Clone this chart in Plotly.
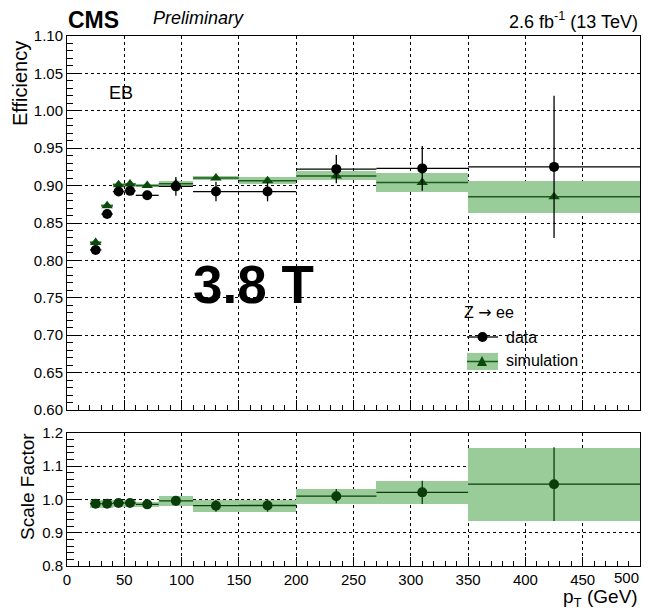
import plotly.graph_objects as go

W, H = 651, 610

# ---------------- data ----------------
bin_lo = [20, 30, 40, 50, 60, 80, 110, 150, 200, 270, 350]
bin_hi = [30, 40, 50, 60, 80, 110, 150, 200, 270, 350, 500]
pt_center = [25, 35, 45, 55, 70, 95, 130, 175, 235, 310, 425]

eff_data = [0.814, 0.862, 0.892, 0.893, 0.887, 0.899, 0.892, 0.892, 0.922, 0.923, 0.925]
eff_data_err = [0.005, 0.005, 0.005, 0.005, 0.006, 0.0125, 0.013, 0.013, 0.019, 0.030, 0.095]

eff_sim = [0.824, 0.873, 0.901, 0.902, 0.900, 0.9025, 0.910, 0.9065, 0.913, 0.904, 0.885]
eff_sim_err = [0.002, 0.002, 0.002, 0.002, 0.002, 0.003, 0.003, 0.0045, 0.006, 0.0128, 0.021]

sf = [0.987, 0.987, 0.989, 0.989, 0.985, 0.9955, 0.981, 0.9815, 1.0095, 1.021, 1.0455]
sf_err = [0.011, 0.011, 0.011, 0.011, 0.008, 0.0145, 0.018, 0.0185, 0.0215, 0.035, 0.1105]

x_ticks = [0, 50, 100, 150, 200, 250, 300, 350, 400, 450, 500]
x_ticktext = ["0", "50", "100", "150", "200", "250", "300", "350", "400", "450", ""]
last_x_label = "500"

# ---------------- helpers ----------------
half_w = [(h - l) / 2 for l, h in zip(bin_lo, bin_hi)]
widths = [h - l for l, h in zip(bin_lo, bin_hi)]


def px(x):
    return x / W


def py(y):
    return 1 - y / H


FONT = "Liberation Sans, Arial, Helvetica, sans-serif"
BAND = "#99cc99"
SIMLINE = "#1e5a1e"
SIMMARK = "#0a4a0a"
SFMARK = "#0b3d0b"

fig = go.Figure()

# ---- main panel: simulation band ----
fig.add_trace(go.Bar(
    x=pt_center,
    y=[2 * e for e in eff_sim_err],
    base=[v - e for v, e in zip(eff_sim, eff_sim_err)],
    width=widths,
    marker=dict(color=BAND, line=dict(width=0)),
    xaxis="x2", yaxis="y2", showlegend=False, hoverinfo="skip",
))
# simulation central values
fig.add_trace(go.Scatter(
    x=pt_center, y=eff_sim, mode="markers",
    marker=dict(symbol="triangle-up", size=10, color=SIMMARK),
    error_x=dict(type="data", array=half_w, color=SIMLINE, thickness=1.5, width=0),
    xaxis="x2", yaxis="y2", showlegend=False,
))
# data
fig.add_trace(go.Scatter(
    x=pt_center, y=eff_data, mode="markers",
    marker=dict(symbol="circle", size=10, color="black"),
    error_x=dict(type="data", array=half_w, color="black", thickness=1.3, width=0),
    error_y=dict(type="data", array=eff_data_err, color="black", thickness=1.3, width=0),
    xaxis="x2", yaxis="y2", showlegend=False,
))

# ---- ratio panel ----
fig.add_trace(go.Bar(
    x=pt_center,
    y=[2 * e for e in sf_err],
    base=[v - e for v, e in zip(sf, sf_err)],
    width=widths,
    marker=dict(color=BAND, line=dict(width=0)),
    xaxis="x", yaxis="y", showlegend=False, hoverinfo="skip",
))
fig.add_trace(go.Scatter(
    x=pt_center, y=sf, mode="markers",
    marker=dict(symbol="circle", size=10, color=SFMARK),
    error_x=dict(type="data", array=half_w, color=SFMARK, thickness=1.3, width=0),
    error_y=dict(type="data", array=sf_err, color=SFMARK, thickness=1.3, width=0),
    xaxis="x", yaxis="y", showlegend=False,
))

xdom = [px(67), px(640)]
axis_common = dict(
    showline=True, linecolor="black", linewidth=1, mirror=True,
    ticks="inside", tickcolor="black", tickwidth=1,
    showgrid=True, gridcolor="black", griddash="dot", gridwidth=1,
    zeroline=False, automargin=False,
    tickfont=dict(family=FONT, size=15, color="black"),
)

fig.update_layout(
    width=W, height=H, autosize=False,
    margin=dict(l=0, r=0, t=0, b=0),
    paper_bgcolor="white", plot_bgcolor="white",
    barmode="overlay", bargap=0,
    font=dict(family=FONT, color="black"),
    xaxis=dict(
        domain=xdom, range=[0, 500.0001], anchor="y",
        tickmode="array", tickvals=x_ticks, ticktext=x_ticktext, ticklen=9,
        minor=dict(ticks="inside", dtick=10, ticklen=5, tickcolor="black", showgrid=False),
        **axis_common,
    ),
    yaxis=dict(
        domain=[py(566), py(432.7)], range=[0.8, 1.2], anchor="x",
        dtick=0.1, tick0=0.8, tickformat=".1f", ticklen=14,
        minor=dict(ticks="inside", dtick=0.02, ticklen=7, tickcolor="black", showgrid=False),
        **axis_common,
    ),
    xaxis2=dict(
        domain=xdom, range=[0, 500.0001], anchor="y2", matches="x",
        tickmode="array", tickvals=x_ticks, ticklen=10, showticklabels=False,
        minor=dict(ticks="inside", dtick=10, ticklen=5, tickcolor="black", showgrid=False),
        **axis_common,
    ),
    yaxis2=dict(
        domain=[py(410), py(36)], range=[0.6, 1.1], anchor="x2",
        dtick=0.05, tick0=0.6, tickformat=".2f", ticklen=12,
        minor=dict(ticks="inside", dtick=0.01, ticklen=6, tickcolor="black", showgrid=False),
        **axis_common,
    ),
)

ann = []


def text(x, y, s, size, xanchor="left", yanchor="middle", angle=0, **kw):
    ann.append(dict(
        x=px(x), y=py(y), xref="paper", yref="paper", text=s, showarrow=False,
        xanchor=xanchor, yanchor=yanchor, textangle=angle,
        font=dict(family=FONT, size=size, color="black"), **kw,
    ))


text(66, 20, "<b>CMS</b>", 23)
text(151, 18, "<i>Preliminary</i>", 18)
text(640, 20, "2.6 fb<sup>-1</sup> (13 TeV)", 18, xanchor="right")
text(107, 93, "EB", 18)
text(253, 284, "<b>3.8 T</b>", 53, xanchor="center")
text(20, 84, "Efficiency", 20, xanchor="center", angle=-90)
text(27, 487, "Scale Factor", 19, xanchor="center", angle=-90)
text(640, 598, "p<sub>T</sub> (GeV)", 19, xanchor="right")
# last x tick label (kept inside the page)
text(641, 577, last_x_label, 15, xanchor="right")

# legend
text(462, 313, "Z <span style='font-family:DejaVu Sans'>\u2192</span> ee", 16)
text(504, 337, "data", 16)
text(504, 360, "simulation", 16)

shapes = []
# data legend entry
shapes.append(dict(type="line", xref="paper", yref="paper",
                   x0=px(467), x1=px(498), y0=py(337), y1=py(337),
                   line=dict(color="black", width=1.3)))
shapes.append(dict(type="circle", xref="paper", yref="paper",
                   x0=px(477.5), x1=px(487.5), y0=py(342), y1=py(332),
                   fillcolor="black", line=dict(color="black", width=0)))
# simulation legend entry
shapes.append(dict(type="rect", xref="paper", yref="paper",
                   x0=px(467), x1=px(498), y0=py(370), y1=py(353),
                   fillcolor=BAND, line=dict(width=0)))
shapes.append(dict(type="line", xref="paper", yref="paper",
                   x0=px(467), x1=px(498), y0=py(361.5), y1=py(361.5),
                   line=dict(color=SIMLINE, width=1.5)))
shapes.append(dict(type="path", xref="paper", yref="paper",
                   path=f"M {px(477)} {py(366)} L {px(487)} {py(366)} L {px(482)} {py(356)} Z",
                   fillcolor=SIMMARK, line=dict(width=0)))

fig.update_layout(annotations=ann, shapes=shapes)

fig.write_html("out.html")
